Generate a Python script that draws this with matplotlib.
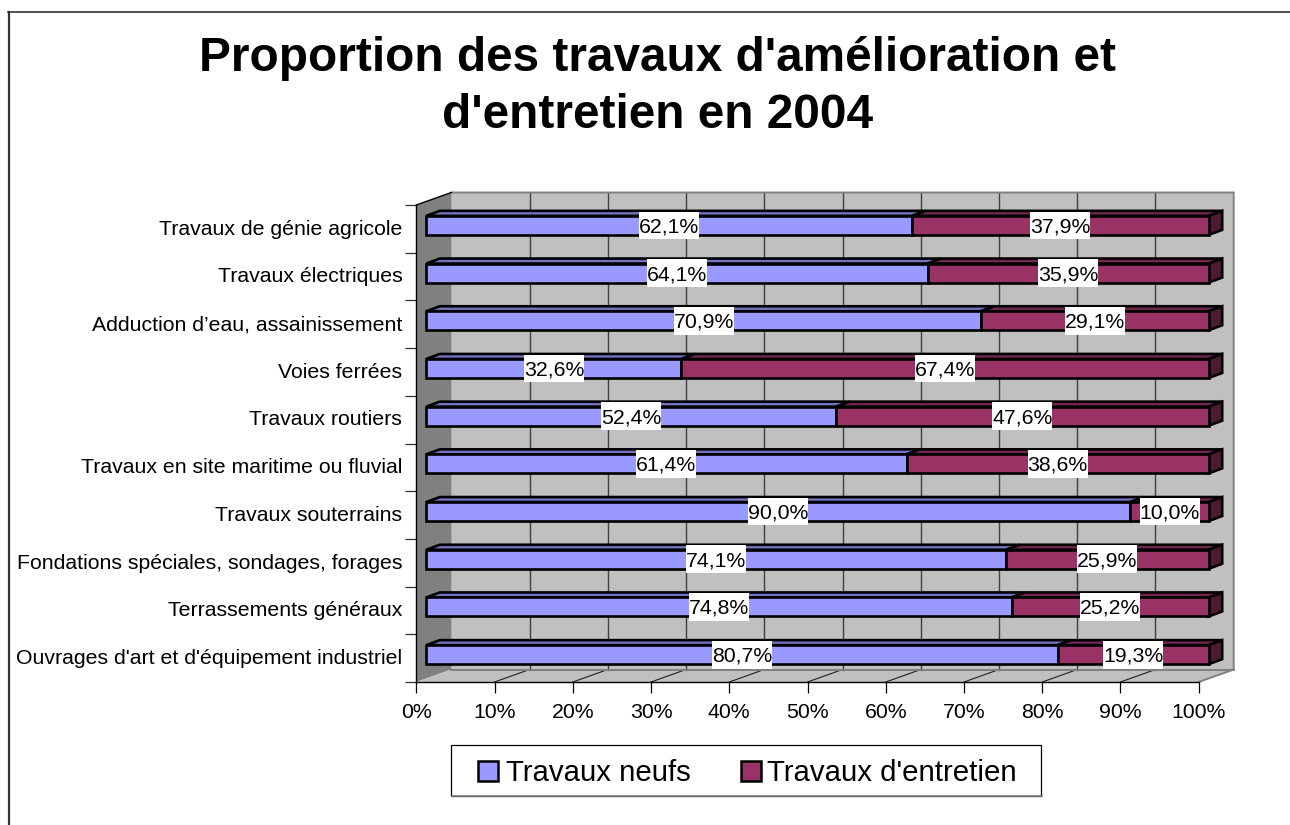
import matplotlib
matplotlib.use("Agg")
import matplotlib.pyplot as plt
from matplotlib.patches import Polygon, Rectangle
from matplotlib.lines import Line2D

plt.rcParams['font.family'] = ['Liberation Sans', 'DejaVu Sans']

TITLE = "Proportion des travaux d'amélioration et\nd'entretien en 2004"

# top to bottom, as in the chart
categories = [
    "Travaux de génie agricole",
    "Travaux électriques",
    "Adduction d’eau, assainissement",
    "Voies ferrées",
    "Travaux routiers",
    "Travaux en site maritime ou fluvial",
    "Travaux souterrains",
    "Fondations spéciales, sondages, forages",
    "Terrassements généraux",
    "Ouvrages d'art et d'équipement industriel",
]
neufs = [62.1, 64.1, 70.9, 32.6, 52.4, 61.4, 90.0, 74.1, 74.8, 80.7]
entretien = [37.9, 35.9, 29.1, 67.4, 47.6, 38.6, 10.0, 25.9, 25.2, 19.3]
series_names = ["Travaux neufs", "Travaux d'entretien"]

COL_NEUFS = '#9999FF'
COL_NEUFS_TOP = '#7373BF'
COL_ENTRETIEN = '#993366'
COL_ENTRETIEN_TOP = '#732650'
COL_ENTRETIEN_SIDE = '#4D1A33'
COL_WALL = '#C0C0C0'
COL_SIDE_WALL = '#808080'
FS = 15.3

W, H = 1290, 825
fig = plt.figure(figsize=(W / 100, H / 100), dpi=100)


def fx(px):
    return px / W


def fy(py):
    return 1 - py / H


# outer chart frame, only left and top are inside the picture
fig.add_artist(Line2D([fx(9), fx(9)], [fy(11.8), 0], color='#333333', lw=1.6))
fig.add_artist(Line2D([fx(8), 1], [fy(11.8), fy(11.8)], color='#222222', lw=1.1))

fig.text(fx(657.5), fy(87), TITLE, ha='center', va='center', fontsize=34.4,
         fontweight='bold', linespacing=1.33)

# front plane of the fake 3d box
left, right, top, bottom = 416.3, 1198.7, 205, 682
ax = fig.add_axes([fx(left), fy(bottom), (right - left) / W, (bottom - top) / H])
ax.set_xlim(0, 100)
ax.set_ylim(10, 0)
ax.patch.set_visible(False)
for s in ax.spines.values():
    s.set_visible(False)

# pixel to data factors for the depth offsets
sx = 100 / (right - left)
sy = 10 / (bottom - top)


def off(x, y, dx, dy):
    # dx to the right, dy upwards, in pixels
    return (x + dx * sx, y - dy * sy)


def poly(pts, fc, ec='none', lw=0, z=1):
    ax.add_patch(Polygon(pts, closed=True, facecolor=fc, edgecolor=ec, linewidth=lw,
                         zorder=z, clip_on=False, joinstyle='miter'))


DX, DY = 35, 12.5

# walls and floor
poly([off(0, 0, DX, DY), off(100, 0, DX, DY), off(100, 10, DX, DY), off(0, 10, DX, DY)], COL_WALL)
poly([(0, 0), off(0, 0, DX, DY), off(0, 10, DX, DY), (0, 10)], COL_SIDE_WALL)
poly([(0, 10), off(0, 10, DX, DY), off(100, 10, DX, DY), (100, 10)], COL_WALL)

# gridlines on back wall and floor
for v in range(10, 100, 10):
    x0, y0 = off(v, 0, DX, DY)
    x1, y1 = off(v, 10, DX, DY)
    ax.plot([x0, x1], [y0, y1], color='#404040', lw=1.0, zorder=2, clip_on=False)
    ax.plot([v, x1], [10, y1], color='#202020', lw=0.8, zorder=2, clip_on=False)

# wall border
p = [off(0, 0, DX, DY), off(100, 0, DX, DY), off(100, 10, DX, DY), (100, 10)]
ax.plot([q[0] for q in p], [q[1] for q in p], color=COL_SIDE_WALL, lw=1.4, zorder=3,
        clip_on=False, solid_joinstyle='miter')
p = [off(0, 10, DX, DY), off(100, 10, DX, DY)]
ax.plot([q[0] for q in p], [q[1] for q in p], color=COL_SIDE_WALL, lw=1.4, zorder=3, clip_on=False)

# axis lines and ticks
ax.plot([0, 0], [0, 10], color='black', lw=1.0, zorder=4, clip_on=False)
ax.plot([0, 100], [10, 10], color='black', lw=1.0, zorder=4, clip_on=False)
ax.plot([0, off(0, 0, DX, DY)[0]], [0, off(0, 0, DX, DY)[1]], color='black', lw=1.0, zorder=4, clip_on=False)

ax.set_xticks(range(0, 101, 10))
ax.set_xticklabels([f"{v}%" for v in range(0, 101, 10)], fontsize=FS)
ax.tick_params(axis='x', length=8, width=0.9, pad=7, color='black')
ax.set_yticks(range(0, 11))
ax.set_yticklabels([])
ax.tick_params(axis='y', length=8, width=0.9, color='#303030')
for i, name in enumerate(categories):
    ax.text(*off(0, i + 0.5, -14, -5.8), name, ha='right', va='baseline', fontsize=FS)

# bars: fake 3d, offset into the box
BX, BY = 10, 3.5   # front face offset
TX, TY = 13.5, 5   # top face depth
BAR_H = 19 * sy
ELW = 1.9
BOX_W, BOX_H = 60 * sx, 27.7 * sy

for i in range(len(categories)):
    base = off(0, i + 0.5, BX, BY)
    yc = base[1]
    y0, y1 = yc - BAR_H / 2, yc + BAR_H / 2
    start = base[0]
    mid = start + neufs[i]
    end = mid + entretien[i]
    # depth faces
    poly([(start, y0), off(start, y0, TX, TY), off(mid, y0, TX, TY), (mid, y0)],
         COL_NEUFS_TOP, 'black', ELW, 5)
    poly([(mid, y0), off(mid, y0, TX, TY), off(end, y0, TX, TY), (end, y0)],
         COL_ENTRETIEN_TOP, 'black', ELW, 5)
    poly([(end, y0), off(end, y0, TX, TY), off(end, y1, TX, TY), (end, y1)],
         COL_ENTRETIEN_SIDE, 'black', ELW, 5)
    # front faces
    ax.barh(yc, neufs[i], height=BAR_H, left=start, color=COL_NEUFS, edgecolor='black',
            linewidth=ELW, zorder=6, clip_on=False)
    ax.barh(yc, entretien[i], height=BAR_H, left=mid, color=COL_ENTRETIEN, edgecolor='black',
            linewidth=ELW, zorder=6, clip_on=False)
    # value labels with white boxes
    for centre, val in ((start + neufs[i] / 2, neufs[i]), (mid + entretien[i] / 2, entretien[i])):
        ax.add_patch(Rectangle((centre - BOX_W / 2, yc - BOX_H / 2), BOX_W, BOX_H, facecolor='white',
                               edgecolor='none', zorder=7, clip_on=False))
        ax.text(centre, yc + 7 * sy, f"{val:.1f}%".replace('.', ','), ha='center', va='baseline',
                fontsize=FS, zorder=8)

# legend, placed by hand like the original box
fig.add_artist(Line2D([fx(452), fx(1042)], [fy(796.3), fy(796.3)], color='#808080', lw=1.2))
fig.add_artist(Rectangle((fx(451), fy(795.5)), 590 / W, 50.5 / H, facecolor='white',
                         edgecolor='black', linewidth=0.9, transform=fig.transFigure))
for x_handle, x_text, col, name in ((478, 505.5, COL_NEUFS, series_names[0]),
                                    (741, 767, COL_ENTRETIEN, series_names[1])):
    fig.add_artist(Rectangle((fx(x_handle), fy(781)), 20 / W, 20 / H, facecolor=col,
                             edgecolor='black', linewidth=1.8, transform=fig.transFigure))
    fig.text(fx(x_text), fy(780.7), name, ha='left', va='baseline', fontsize=21.2)

fig.savefig("out.png", dpi=100)
